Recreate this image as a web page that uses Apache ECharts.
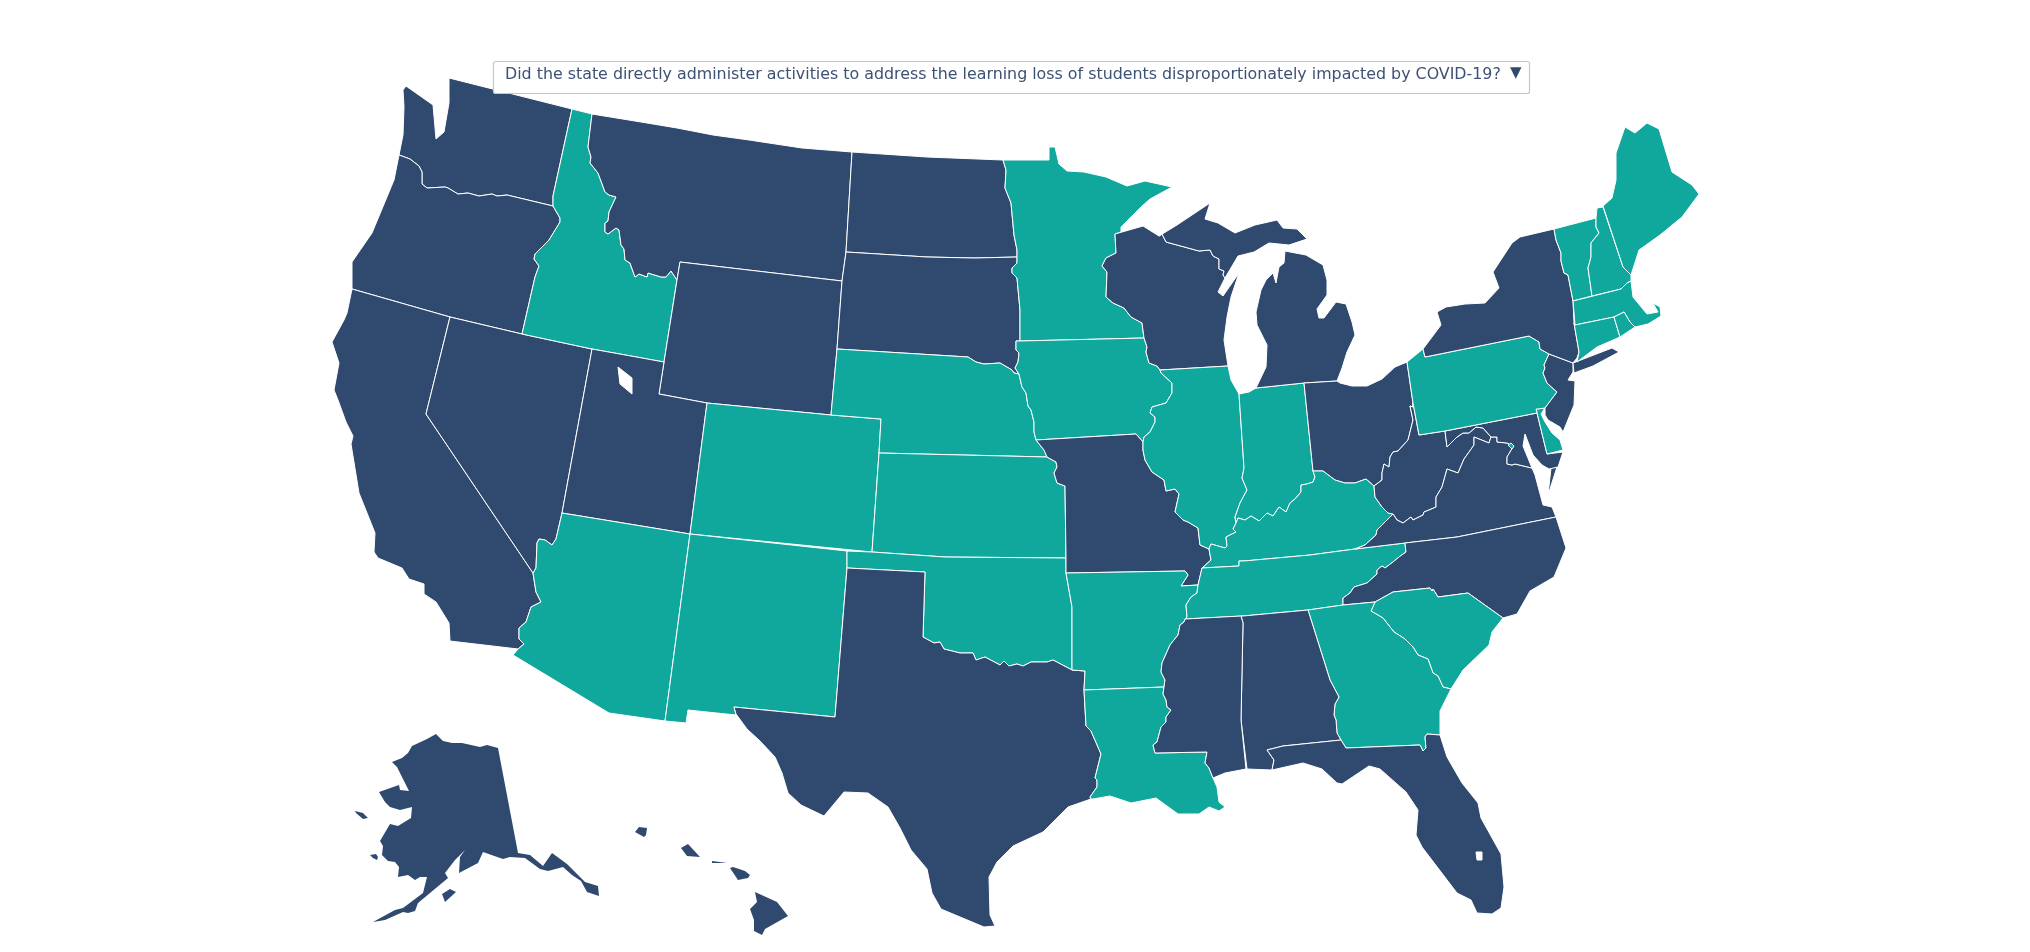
<!DOCTYPE html>
<html>
<head>
<meta charset="utf-8">
<title>State activities map</title>
<script src="https://cdn.jsdelivr.net/npm/echarts@6/dist/echarts.min.js"></script>
<style>
  html,body{margin:0;padding:0;background:#fff;}
  #chart{width:2030px;height:952px;}
</style>
</head>
<body>
<div id="chart"></div>
<script>
// the question in the dropdown
var questionText = 'Did the state directly administer activities to address the learning loss of students disproportionately impacted by COVID-19?';

// 1 = teal answer, 0 = navy answer
var tealStates = ['Idaho','Minnesota','Iowa','Illinois','Indiana','Kentucky','Tennessee','Nebraska','Kansas','Oklahoma','Arkansas','Louisiana','Colorado','Arizona','New Mexico','Georgia','South Carolina','Pennsylvania','Delaware','District of Columbia','Maine','New Hampshire','Vermont','Massachusetts','Connecticut','Rhode Island'];
var navyStates = ['Washington','Oregon','California','Nevada','Utah','Montana','Wyoming','North Dakota','South Dakota','Texas','Missouri','Wisconsin','Michigan','Ohio','West Virginia','Virginia','Maryland','New Jersey','New York','North Carolina','Mississippi','Alabama','Florida','Alaska','Hawaii'];

// shared borders of the base map, traced in page pixels
var waOr='553,206 507,195 497,196 492,194 479,196 468,193 458,194 448,188 445,187 427,188 422,184 422,172 419,166 410,159 399,155';
var orId='553,206 560,218 560,222 549,240 535,254 534,259 539,266 535,277 522,334';
var idMt='592,114 588,147 591,157 590,163 598,173 605,192 609,195 616,197 609,212 608,221 605,223 605,232 608,234 616,228 619,230 621,245 624,249 625,260 630,263 635,277 639,274 647,277 648,273 661,277 666,277 671,271 677,280';
var caAz='513,655 518,649 524,644 519,639 519,628 526,622 531,607 541,602 536,592 533,573';
var nvAz='533,573 536,568 537,543 539,539 545,540 552,545 556,539 562,513';
var sdNe='837,349 968,357 976,362 984,364 1000,363 1012,370 1014,373 1019,374';
var ndMn='1003,160 1006,170 1005,188 1011,203 1014,235 1017,250 1017,257';
var sdMn='1017,257 1017,263 1012,268 1012,273 1017,278 1020,310 1020,341';
var sdIa='1020,341 1016,341 1016,350 1019,353 1018,362 1015,368 1019,374';
var neIa='1019,374 1022,387 1026,393 1028,406 1031,410 1034,422 1034,432 1036,440';
var neMo='1036,440 1044,450 1047,457';
var ksMo='1047,457 1056,462 1057,467 1054,473 1057,483 1065,486 1066,558';
var okTx='847,568 925,572 923,637 934,643 940,642 944,649 960,653 973,653 976,660 985,657 1000,665 1004,661 1009,666 1017,664 1023,666 1031,662 1047,662 1053,660 1072,670';
var okAr='1066,573 1072,607 1072,670';
var mnWi='1115,234 1116,253 1106,258 1102,266 1107,272 1106,297 1113,303 1124,308 1131,317 1142,323 1144,338';
var iaWi='1144,338 1147,347 1146,352 1149,363 1157,366 1160,370';
var iaIl='1160,370 1161,373 1172,383 1172,393 1166,403 1152,407 1150,413 1155,417 1155,422 1150,432 1144,437 1143,442';
var iaMo='1036,440 1136,434 1143,442';
var moIl='1143,442 1143,450 1145,460 1152,472 1164,480 1166,491 1175,489 1179,494 1175,512 1183,520 1188,522 1198,528 1200,545 1209,549';
var wiMi='1162,234 1166,242 1199,251 1210,250 1213,256 1219,259 1219,269 1224,271 1223,275 1225,278';
var ilIn='1239,394 1244,468 1242,478 1247,490 1240,503 1235,517 1236,523';
var ilKy='1236,523 1233,529 1236,532 1226,537 1227,546 1225,548 1211,544 1209,549';
var inKy='1313,471 1315,477 1313,482 1307,484 1301,485 1301,492 1295,499 1290,503 1286,512 1279,507 1273,516 1267,513 1259,521 1251,516 1245,520 1238,518 1236,523';
var moKy='1209,549 1211,560 1202,568';
var arRiver='1198,585 1197,593 1191,597 1186,605 1187,617 1185,619';
var arMs='1185,619 1184,622 1180,625 1178,635 1170,645 1162,663 1161,672 1165,680 1164,687';
var laMs='1164,687 1163,694 1166,700 1167,707 1171,710 1166,717 1166,722 1161,727 1157,742 1153,745 1155,753 1207,752 1205,763 1209,768 1213,778';
var txLa='1084,690 1086,726 1091,731 1101,754 1095,778 1097,780 1097,787 1090,797 1091,799';
var kyTn='1355,549 1310,555 1244,561 1239,561 1239,566 1202,568';
var kyVa='1355,549 1365,545 1376,535 1377,530 1393,514';
var kyWv='1393,514 1388,513 1382,507 1375,497 1374,486';
var kyOh='1374,486 1366,479 1355,483 1345,483 1335,480 1323,471 1313,471';
var ohWv='1413,407 1410,406 1413,420 1408,440 1398,451 1393,452 1390,457 1389,467 1384,464 1382,473 1382,480 1374,486';
var wvVa='1393,514 1397,520 1403,523 1411,517 1413,520 1423,515 1424,512 1429,510 1436,507 1436,497 1442,487 1447,469 1458,473 1464,459 1474,445 1474,437 1489,443 1491,437';
var wvMd='1447,447 1457,437 1463,433 1469,433 1476,427 1483,428 1491,437';
var mdVa='1491,437 1497,437 1497,442 1507,443 1509,444 1513,447 1507,457 1507,464 1512,465 1515,464';
var tnNc='1405,543 1406,552 1399,557 1393,562 1385,568 1382,566 1377,570 1377,574 1367,583 1354,587 1350,593 1343,598 1343,605';
var vaSouth='1355,549 1405,543 1457,537 1556,517';
var tnSouth='1343,605 1308,610 1243,616 1185,619';
var gaSc='1375,602 1371,611 1383,618 1394,632 1405,639 1413,647 1418,655 1428,659 1433,673 1438,676 1443,687 1451,689';
var ncSc='1375,602 1393,592 1430,588 1432,591 1433,589 1438,597 1468,593 1503,618';
var alGa='1308,610 1330,680 1339,697 1335,704 1334,715 1336,720 1337,733 1341,740';
var alFl='1341,740 1283,746 1267,750 1274,760 1272,770';
var paNj='1549,354 1544,365 1545,368 1543,373 1547,383 1557,392 1545,408';
var paNy='1423,349 1425,357 1529,336 1539,342 1540,349 1549,354';
var paSouth='1419,435 1445,431 1537,413';
var nyVt='1554,229 1556,240 1561,253 1561,261 1564,273 1568,275 1573,301';
var nyMa='1573,301 1574,323';
var nyCt='1574,323 1579,352 1577,358 1573,363';
var vtNh='1596,218 1596,227 1599,233 1591,243 1591,257 1588,268 1592,296';
var maCt='1575,325 1614,317';
var maRi='1614,317 1624,312 1630,322 1635,327';
var ctRi='1614,317 1620,337';

function rev(s){ return s.split(' ').reverse().join(' '); }
function ring(){ return Array.prototype.join.call(arguments,' '); }

// each state: list of polygons, each polygon a list of rings (first is outer, rest are holes)
var stateShapes = {
  'Washington':[[ring('403,90 406,86 433,105 436,139 444,132 449,103 449,78 572,109 553,196',waOr,'403,135 404,107')]],
  'Oregon':[[ring(waOr,'394,180 372,233 352,262 352,289 450,317 522,334',rev(orId))]],
  'California':[[ring('352,289 347,313 344,320 332,342 339,363 334,390 338,400 346,422 353,436 351,444 359,493 375,533 374,552 378,558 402,568 409,579 424,584 424,594 436,602 449,623 450,641 518,649 524,644 519,639 519,628 526,622 531,607 541,602 536,592 533,573 426,414 450,317')]],
  'Nevada':[[ring('450,317 522,334 592,349 562,513',rev(nvAz),'426,414')]],
  'Idaho':[[ring('572,109 592,114',idMt,'664,362 592,349 522,334',rev(orId),'553,196')]],
  'Montana':[[ring('592,114 641,122 677,128 713,135 749,140 802,148 852,152 846,252 842,281 680,262',rev(idMt))]],
  'Wyoming':[[ring('680,262 842,281 837,349 831,415 707,403 659,394 664,362 677,280')]],
  'Utah':[[ring('592,349 664,362 659,394 707,403 690,534 562,513'),'620,384 632,394 632,378 618,367']],
  'Arizona':[[ring('562,513 690,534 665,721 609,713',caAz,nvAz)]],
  'Colorado':[[ring('707,403 831,415 881,419 879,453 872,552 690,534')]],
  'New Mexico':[[ring('690,534 847,551 847,568 835,717 734,707 736,715 688,710 686,723 665,721')]],
  'North Dakota':[[ring('852,152 927,157 1003,160',ndMn,'974,258 927,257 846,252')]],
  'South Dakota':[[ring('846,252 927,257 974,258',sdMn,sdIa,rev(sdNe),'842,281')]],
  'Nebraska':[[ring(sdNe,neIa,neMo,'879,453 881,419 831,415')]],
  'Kansas':[[ring('879,453 1047,457',ksMo,'945,557 872,552')]],
  'Oklahoma':[[ring('847,551 872,552 945,557 1066,558',okAr,rev(okTx))]],
  'Texas':[[ring('734,707 835,717',okTx,'1085,671',txLa,'1068,807 1043,832 1013,846 997,862 989,877 990,915 995,926 984,927 941,909 932,893 927,869 911,850 900,828 888,807 868,793 844,792 824,816 801,805 788,793 782,773 775,757 760,741 747,729 736,714')]],
  'Minnesota':[[ring('1003,160 1049,160 1049,147 1055,147 1059,164 1067,171 1084,172 1106,177 1127,186 1145,181 1172,187 1150,199 1141,207 1121,227 1121,232',mnWi,'1020,341',rev(sdMn),rev(ndMn))]],
  'Iowa':[[ring(rev(sdIa),'1144,338',iaWi,iaIl,rev(iaMo),rev(neIa))]],
  'Missouri':[[ring(iaMo,moIl,moKy,'1198,585 1181,586 1188,575 1185,571 1066,573',rev(ksMo),rev(neMo))]],
  'Arkansas':[[ring('1066,573 1185,571 1188,575 1181,586',arRiver,arMs,'1084,690 1085,671 1072,670',rev(okAr))]],
  'Louisiana':[[ring('1084,690',laMs,'1217,787 1219,802 1225,807 1219,811 1209,807 1199,814 1178,814 1156,798 1131,803 1110,796 1093,799',rev(txLa))]],
  'Wisconsin':[[ring('1115,234 1143,226 1159,236',wiMi,'1218,292 1223,296 1239,273 1231,297 1227,317 1224,340 1228,366 1160,370',rev(iaWi),rev(mnWi))]],
  'Illinois':[[ring('1160,370 1228,366 1231,380 1239,394',ilIn,ilKy,rev(moIl),rev(iaIl))]],
  'Indiana':[[ring('1239,394 1249,392 1256,388 1304,383 1313,471',inKy,rev(ilIn))]],
  'Michigan':[
    [ring('1159,236 1177,225 1210,203 1205,219 1218,223 1235,233 1255,225 1277,220 1283,228 1297,229 1307,239 1289,245 1269,243 1254,252 1238,256 1225,278',rev(wiMi))],
    [ring('1285,251 1306,255 1323,265 1327,280 1327,295 1317,309 1319,318 1324,318 1336,302 1346,304 1352,322 1355,335 1347,352 1342,368 1337,381 1304,383 1256,388 1266,367 1267,345 1257,325 1256,312 1261,290 1266,280 1273,273 1276,283 1279,267 1284,263')]
  ],
  'Ohio':[[ring('1304,383 1337,381 1340,383 1352,386 1367,386 1382,379 1395,367 1407,362 1413,403',ohWv,kyOh)]],
  'Kentucky':[[ring('1313,471 1323,471 1335,480 1345,483 1355,483 1366,479 1374,486',rev(kyWv),rev(kyVa),kyTn,rev(moKy),rev(ilKy),rev(inKy))]],
  'Tennessee':[[ring(kyTn,arRiver,rev(tnSouth),rev(tnNc))]],
  'West Virginia':[[ring('1413,403 1419,435 1445,431',wvMd,rev(wvVa),kyWv,rev(ohWv))]],
  'Virginia':[
    [ring(kyVa,wvVa,mdVa,'1532,468 1535,475 1543,505 1552,507 1556,517',rev(vaSouth))],
    [ring('1551,468 1557,467 1548,495')]
  ],
  'Maryland':[[ring('1445,431 1537,413 1547,454 1563,452 1558,467 1549,469 1542,465 1533,455 1525,434 1523,446 1532,468 1515,464',rev(mdVa),rev(wvMd))]],
  'Delaware':[[ring('1537,413 1536,409 1545,408 1541,414 1545,422 1552,433 1560,440 1563,450 1547,454')]],
  'District of Columbia':[[ring('1508,445 1511,443 1514,446 1512,449')]],
  'Pennsylvania':[[ring('1407,362 1423,349 1425,357 1529,336 1539,342 1540,349',paNj,'1538,409 1536,409 1537,413',rev(paSouth),'1413,403')]],
  'New Jersey':[[ring(paNj,'1545,415 1548,420 1560,427 1563,432 1574,405 1575,381 1568,380 1573,372 1573,363')]],
  'New York':[
    [ring('1554,229 1520,237 1512,243 1493,272 1499,288 1485,303 1465,304 1446,307 1437,312 1441,325',paNy,'1573,363',rev(nyCt),rev(nyMa),rev(nyVt))],
    [ring('1573,363 1612,348 1619,352 1593,366 1574,373')]
  ],
  'North Carolina':[[ring(tnNc,ncSc,'1517,614 1530,591 1554,577 1566,548 1556,517 1457,537 1405,543')]],
  'South Carolina':[[ring(gaSc,'1463,670 1489,645 1492,632 1503,618',rev(ncSc))]],
  'Georgia':[[ring('1308,610 1343,605',gaSc,'1440,711 1440,735 1427,734 1425,737 1426,748 1423,751 1420,745 1346,748',rev(alGa))]],
  'Alabama':[[ring('1243,616',alGa,alFl,'1247,769 1241,720 1243,623 1241,616')]],
  'Mississippi':[[ring('1185,619 1241,616 1243,623 1241,720 1246,769 1225,773',rev(laMs),rev(arMs))]],
  'Florida':[[ring(alFl,'1303,763 1322,769 1337,783 1342,784 1369,766 1380,769 1406,792 1418,810 1416,835 1422,847 1457,893 1471,900 1477,913 1492,914 1501,908 1504,887 1501,854 1481,818 1478,803 1462,783 1447,757 1440,735 1427,734 1425,737 1426,748 1423,751 1420,745 1346,748'),'1476,852 1482,852 1482,860 1477,860']],
  'Vermont':[[ring('1554,229 1596,218',vtNh,'1573,301',rev(nyVt))]],
  'New Hampshire':[[ring('1597,208 1603,207 1623,267 1631,274 1631,281 1627,283 1621,289',rev(vtNh))]],
  'Maine':[[ring('1603,206 1612,198 1616,180 1616,153 1625,127 1635,133 1647,123 1659,129 1672,172 1692,185 1699,194 1682,217 1660,235 1639,250 1631,275 1623,267')]],
  'Massachusetts':[[ring('1573,301 1621,289 1627,283 1631,281 1633,297 1647,314 1658,312 1653,303 1660,307 1661,316 1648,324 1635,327',rev(maRi),rev(maCt))]],
  'Connecticut':[[ring(maCt,ctRi,'1597,347 1577,362 1579,352 1574,323')]],
  'Rhode Island':[[ring(maRi,rev(ctRi))]],
  'Alaska':[
    [ring('436,734 443,741 452,743 462,743 480,747 487,745 498,748 518,853 530,855 543,866 552,853 567,864 585,882 598,886 599,896 587,892 581,881 572,875 563,867 548,871 540,869 525,858 510,857 503,859 483,852 478,863 459,873 460,857 465,850 455,860 445,873 448,878 430,893 418,903 415,911 408,913 403,912 385,920 373,922 373,921 395,910 403,908 423,893 427,877 420,877 415,880 408,875 398,877 399,867 395,862 388,861 382,855 383,846 380,841 390,824 398,826 411,818 412,807 400,810 390,807 385,802 379,792 399,785 400,790 409,791 397,767 392,762 402,758 408,753 412,746 427,739')],
    [ring('442,894 450,889 456,892 445,902')],
    [ring('355,811 363,813 368,818 363,819 356,813')],
    [ring('370,855 376,854 378,857 377,860 373,858')]
  ],
  'Hawaii':[
    [ring('755,892 777,902 788,916 765,929 762,935 754,931 754,920 750,909 757,902')],
    [ring('730,868 733,867 745,871 750,875 748,878 738,880')],
    [ring('712,861 727,863 726,864 712,863')],
    [ring('681,848 688,844 700,857 687,856')],
    [ring('635,832 639,827 647,828 646,835 644,837')]
  ]
};

function toCoords(s){
  var pts = s.split(' ').map(function(p){
    var xy = p.split(',');
    return [+xy[0], -xy[1]];
  });
  pts.push(pts[0]);
  return pts;
}
var features = Object.keys(stateShapes).map(function(name){
  return {
    type:'Feature',
    properties:{name:name},
    geometry:{type:'MultiPolygon',coordinates:stateShapes[name].map(function(poly){return poly.map(toCoords);})}
  };
});
echarts.registerMap('usa',{type:'FeatureCollection',features:features});

var chart = echarts.init(document.getElementById('chart'));
var seriesData = tealStates.map(function(n){return {name:n,value:1};})
  .concat(navyStates.map(function(n){
    // the islands would lose their small shapes under a white outline
    if(n=='Alaska'||n=='Hawaii') return {name:n,value:0,itemStyle:{borderWidth:0}};
    return {name:n,value:0};
  }));

var option = {
  backgroundColor:'#fff',
  animation:false,
  visualMap:{
    show:false,
    type:'piecewise',
    pieces:[{value:1,color:'#10a79c'},{value:0,color:'#30496f'}]
  },
  series:[{
    name:'answer',
    type:'map',
    map:'usa',
    aspectScale:1,
    boundingCoords:[[0,0],[2030,-952]],
    left:0,top:0,width:2030,height:952,
    silent:true,
    selectedMode:false,
    label:{show:false},
    itemStyle:{borderColor:'#fff',borderWidth:1},
    data:seriesData
  }],
  graphic:[
    {type:'rect',z:100,shape:{x:493.5,y:61.5,width:1036,height:32,r:2},style:{fill:'#fff',stroke:'#bcc8dc',lineWidth:1.2}},
    {type:'text',z:101,left:505,top:67,style:{text:questionText,fill:'#3d5173',font:'15.85px "DejaVu Sans"'}},
    {type:'text',z:101,left:1510,top:66,style:{text:'▼',fill:'#30496f',font:'15px "DejaVu Sans"'}}
  ]
};
chart.setOption(option);
</script>
</body>
</html>
